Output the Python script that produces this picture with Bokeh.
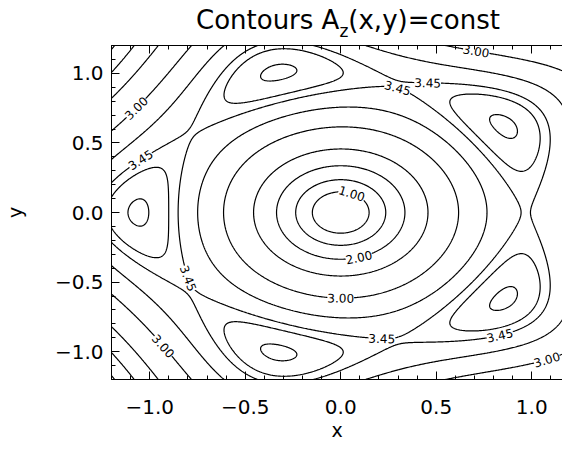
import numpy as np
from bokeh.plotting import figure
from bokeh.layouts import column
from bokeh.models import (Range1d, FixedTicker, LinearAxis, Div,
                          ColumnDataSource, CustomJSTickFormatter)
from bokeh.core.properties import value
from bokeh.embed import file_html
from bokeh.resources import INLINE

# ---------------- values ----------------
title_main = "Contours A"
title_sub = "z"
title_rest = "(x,y)=const"
x_label = "x"
y_label = "y"

major_ticks = [-1.0, -0.5, 0.0, 0.5, 1.0]
tick_labels = ["\u22121.0", "\u22120.5", "0.0", "0.5", "1.0"]
minor_ticks = [-1.2, -1.1, -0.9, -0.8, -0.7, -0.6, -0.4, -0.3, -0.2, -0.1,
               0.1, 0.2, 0.3, 0.4, 0.6, 0.7, 0.8, 0.9, 1.1, 1.2]

# contour levels of A_z
levels = [1.0, 1.5, 2.0, 2.5, 3.0, 3.3, 3.45, 3.5, 3.56]

# labelled contours (approximate spots, snapped onto their level below)
label_text = ["1.00", "2.00", "3.00", "3.45", "3.45", "3.00", "3.00",
              "3.45", "3.45", "3.00", "3.45", "3.45", "3.00"]
label_x = [0.06, 0.094, 0.0, 0.215, 0.825, 1.065, -0.919,
           -0.799, -1.057, -1.065, 0.30, 0.455, 0.705]
label_y = [0.141, -0.318, -0.621, -0.90, -0.857, -1.024, -0.953,
           -0.474, 0.388, 0.746, 0.90, 0.926, 1.141]

# model of the flux function A_z(r, theta): radial profile + m=5 island term
profile_poly = [0.315, 6.4, -3.2]      # c0 + c1 r + c2 r^2
core_amp, core_len = -0.32, 0.3        # central correction
island_mode = 5
island_amp = 0.055

x_lo, x_hi = -1.2, 1.161
y_lo, y_hi = -1.2, 1.2


def field(x, y):
    r = np.hypot(x, y)
    th = np.arctan2(y, x)
    F = profile_poly[0] + profile_poly[1] * r + profile_poly[2] * r ** 2 \
        + core_amp * np.exp(-r / core_len)
    return F - island_amp * r ** island_mode * np.cos(island_mode * th)


xs = np.linspace(-1.2, 1.2, 481)
ys = np.linspace(-1.2, 1.2, 481)
XX, YY = np.meshgrid(xs, ys)
ZZ = field(XX, YY)

FONT = "DejaVu Sans"

# ---------------- main plot ----------------
p = figure(width=562, height=401,
           x_range=Range1d(x_lo, x_hi), y_range=Range1d(y_lo, y_hi),
           output_backend="svg", toolbar_location=None,
           min_border_left=104, min_border_right=0,
           min_border_top=3, min_border_bottom=63)
p.outline_line_color = None
p.grid.visible = False
p.background_fill_color = "white"
p.border_fill_color = "white"

fmt = CustomJSTickFormatter(args=dict(major_vals=major_ticks,
                                      major_texts=tick_labels),
                            code="""
const i = major_vals.findIndex(t => Math.abs(t - tick) < 1e-9);
return i >= 0 ? major_texts[i] : '';
""")

for ax in (p.xaxis[0], p.yaxis[0]):
    ax.ticker = FixedTicker(ticks=major_ticks, minor_ticks=minor_ticks)
    ax.formatter = fmt
    ax.major_tick_in = 8
    ax.major_tick_out = 0
    ax.minor_tick_in = 4
    ax.minor_tick_out = 0
    ax.axis_line_color = "black"
    ax.major_tick_line_color = "black"
    ax.minor_tick_line_color = "black"
    ax.major_label_text_font = FONT
    ax.major_label_text_font_size = "20px"
    ax.major_label_text_color = "black"
    ax.axis_label_text_font = FONT
    ax.axis_label_text_font_size = "19px"
    ax.axis_label_text_font_style = "normal"
    ax.axis_label_text_color = "black"

p.xaxis[0].axis_label = x_label
p.xaxis[0].major_label_standoff = 20
p.xaxis[0].axis_label_standoff = 2
p.yaxis[0].axis_label = y_label
p.yaxis[0].major_label_standoff = 8
p.yaxis[0].axis_label_standoff = 26

top = LinearAxis(ticker=FixedTicker(ticks=major_ticks, minor_ticks=minor_ticks),
                 formatter=CustomJSTickFormatter(code="return '';"))
top.major_tick_in = 8
top.major_tick_out = 0
top.minor_tick_in = 4
top.minor_tick_out = 0
top.axis_line_color = "black"
top.major_label_standoff = 0
top.major_label_text_font_size = "1px"
p.add_layout(top, "above")

# contour lines
p.contour(xs, ys, ZZ, levels=levels, line_color="black", line_width=1.2)

# snap labels to their contour and orient them along it
lx = np.array(label_x, float)
ly = np.array(label_y, float)
lv = np.array([float(t) for t in label_text])
h = 1e-5
for _ in range(40):
    f = field(lx, ly) - lv
    gx = (field(lx + h, ly) - field(lx - h, ly)) / (2 * h)
    gy = (field(lx, ly + h) - field(lx, ly - h)) / (2 * h)
    g2 = gx ** 2 + gy ** 2 + 1e-12
    dx = -f * gx / g2
    dy = -f * gy / g2
    st = np.hypot(dx, dy)
    sc = np.minimum(1.0, 0.02 / np.maximum(st, 1e-12))
    lx += dx * sc
    ly += dy * sc
gx = (field(lx + h, ly) - field(lx - h, ly)) / (2 * h)
gy = (field(lx, ly + h) - field(lx, ly - h)) / (2 * h)
sx = 458.0 / (x_hi - x_lo)
sy = 335.0 / (y_hi - y_lo)
ang = np.arctan2(gx * sy, -gy * sx)
ang = np.where(ang > np.pi / 2, ang - np.pi, ang)
ang = np.where(ang <= -np.pi / 2, ang + np.pi, ang)

src = ColumnDataSource(dict(x=lx, y=ly, text=label_text, angle=ang))
p.text(x="x", y="y", text="text", angle="angle", source=src,
       text_font=value(FONT), text_font_size="12px",
       text_align="center", text_baseline="middle", text_color="black",
       background_fill_color="white")

# ---------------- title (HTML, with a real subscript) ----------------
title_html = (
    '<div style="margin:0; padding:2px 0 0 196px; white-space:nowrap; '
    'font-family:\'DejaVu Sans\'; font-size:26px; line-height:36px; color:black;">'
    f'{title_main}<span style="font-size:17px; position:relative; top:8px;">'
    f'{title_sub}</span>{title_rest}</div>'
)
title_div = Div(text=title_html, width=562, height=42, margin=(0, 0, 0, 0))

layout = column(title_div, p, spacing=0)
open("out.html", "w").write(file_html(layout, INLINE))
